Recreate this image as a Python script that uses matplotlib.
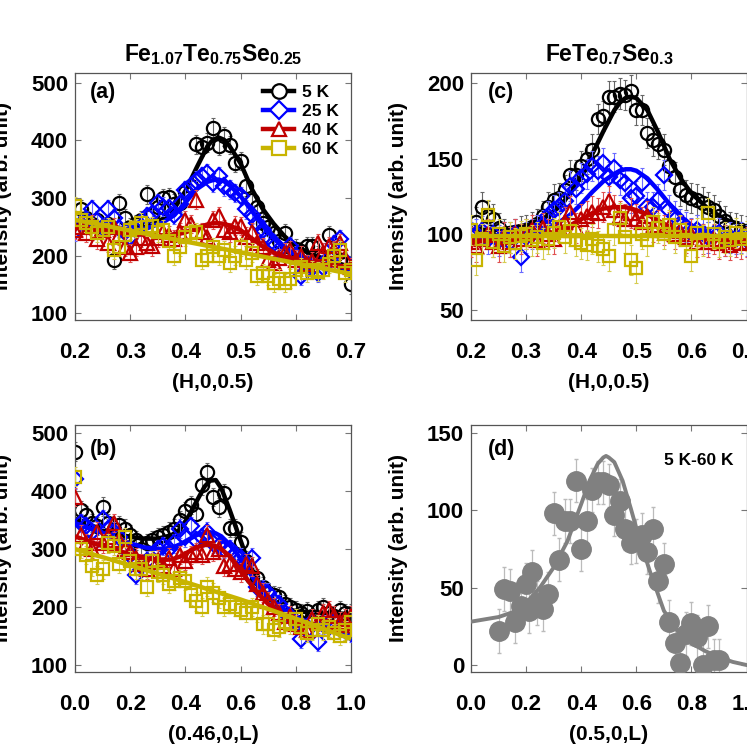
import numpy as np
import matplotlib.pyplot as plt
from matplotlib.lines import Line2D

plt.rcParams['font.family'] = ['Liberation Sans', 'DejaVu Sans']
plt.rcParams['font.weight'] = 'bold'
plt.rcParams['axes.labelweight'] = 'bold'
plt.rcParams['mathtext.fontset'] = 'custom'
plt.rcParams['mathtext.rm'] = 'Liberation Sans:bold'
plt.rcParams['mathtext.bf'] = 'Liberation Sans:bold'

# ---------------- panel (a): Fe1.07Te0.75Se0.25, (H,0,0.5) ----------------
h_a = np.linspace(0.20, 0.70, 51)
a_5K = [262, 280, 265, 255, 262, 250, 255, 193, 291, 265, 250, 255, 262, 306, 270, 285, 300, 302, 290, 291,
        311, 320, 393, 388, 396, 422, 390, 407, 392, 361, 364, 320, 297, 285, 257, 250, 239, 225, 239, 215,
        212, 208, 216, 216, 200, 198, 236, 200, 193, 185, 150]
a_25K = [242, 255, 262, 280, 260, 250, 280, 265, 248, 240, 233, 245, 250, 268, 272, 291, 285, 283, 270, 290,
         314, 320, 330, 338, 343, 326, 338, 320, 315, 309, 303, 280, 270, 256, 245, 233, 222, 210, 205, 216,
         200, 164, 185, 178, 170, 180, 195, 220, 228, 190, 175]
a_40K = [245, 250, 239, 255, 228, 245, 222, 250, 235, 215, 204, 215, 230, 222, 216, 230, 240, 235, 228, 240,
         262, 255, 297, 240, 233, 262, 268, 245, 240, 252, 251, 233, 240, 222, 215, 193, 187, 195, 205, 210,
         193, 200, 185, 190, 222, 205, 216, 210, 222, 195, 180]
a_60K = [286, 262, 257, 250, 239, 245, 250, 210, 215, 235, 245, 248, 257, 250, 251, 240, 245, 225, 199, 215,
         233, 239, 240, 193, 200, 215, 199, 210, 187, 200, 215, 193, 205, 164, 170, 165, 152, 160, 152, 160,
         175, 180, 170, 175, 172, 175, 185, 199, 210, 170, 175]
fit_a_x = [0.20, 0.25, 0.30, 0.33, 0.36, 0.38, 0.40, 0.42, 0.44, 0.45, 0.46, 0.47, 0.48, 0.50, 0.52, 0.54,
           0.56, 0.58, 0.60, 0.63, 0.66, 0.70]
fit_a_5K = [258, 251, 246, 250, 264, 282, 312, 352, 390, 401, 405, 401, 390, 360, 316, 281, 255, 233, 216,
            202, 191, 180]
fit_a_25K = [252, 248, 244, 247, 258, 270, 292, 315, 328, 331, 332, 329, 322, 303, 278, 252, 230, 213, 202,
             192, 185, 176]
fit_a_40K = [250, 244, 238, 236, 235, 236, 240, 248, 254, 256, 256, 255, 252, 244, 230, 216, 205, 198, 194,
             188, 184, 178]
fit_a60_x = [0.20, 0.70]
fit_a_60K = [262, 168]

# ---------------- panel (b): Fe1.07Te0.75Se0.25, (0.46,0,L) ----------------
l_b = np.linspace(0.0, 1.0, 51)
b_5K = [468, 367, 359, 345, 340, 373, 345, 335, 341, 335, 325, 315, 300, 310, 315, 320, 324, 330, 335, 350,
        365, 376, 361, 410, 433, 390, 372, 396, 336, 336, 313, 280, 252, 250, 235, 225, 220, 218, 205, 200,
        195, 190, 193, 185, 195, 200, 190, 185, 195, 189, 190]
b_25K = [420, 345, 340, 330, 320, 352, 335, 330, 320, 300, 290, 255, 270, 280, 275, 300, 305, 300, 310, 335,
         320, 340, 315, 320, 330, 310, 305, 300, 300, 290, 285, 275, 285, 235, 230, 225, 210, 205, 190, 185,
         175, 145, 160, 175, 140, 170, 165, 175, 165, 160, 155]
b_40K = [390, 325, 310, 300, 330, 310, 320, 345, 315, 300, 295, 285, 275, 265, 278, 282, 270, 285, 265, 290,
         280, 290, 295, 290, 325, 295, 300, 270, 275, 265, 260, 275, 270, 240, 225, 210, 200, 190, 175, 185,
         170, 165, 160, 180, 175, 190, 195, 185, 175, 180, 185]
b_60K = [425, 300, 290, 270, 255, 265, 310, 305, 275, 320, 280, 265, 265, 235, 280, 260, 255, 240, 245, 250,
         245, 220, 210, 200, 235, 225, 215, 200, 205, 200, 195, 190, 200, 190, 170, 170, 160, 165, 175, 170,
         180, 165, 155, 160, 170, 160, 165, 155, 150, 160, 175]
fit_b_x = [0.0, 0.05, 0.1, 0.15, 0.2, 0.25, 0.3, 0.35, 0.38, 0.41, 0.44, 0.47, 0.49, 0.51, 0.53, 0.56, 0.59,
           0.62, 0.66, 0.7, 0.75, 0.8, 0.85, 0.9, 0.95, 1.0]
fit_b_5K = [352, 342, 334, 326, 321, 318, 318, 324, 334, 355, 382, 408, 418, 419, 405, 368, 328, 288, 245,
            215, 199, 193, 191, 190, 189, 188]
fit_b_25K = [345, 336, 328, 318, 310, 303, 300, 302, 308, 316, 324, 328, 329, 327, 322, 308, 290, 268, 240,
             218, 198, 183, 173, 166, 161, 157]
fit_b_40K = [322, 313, 305, 298, 291, 285, 281, 282, 287, 295, 303, 307, 307, 305, 300, 288, 270, 250, 225,
             205, 187, 174, 167, 163, 160, 158]
fit_b60_x = [0.0, 0.2, 0.4, 0.6, 0.8, 1.0]
fit_b_60K = [300, 272, 243, 213, 180, 145]

# ---------------- panel (c): FeTe0.7Se0.3, (H,0,0.5) ----------------
h_c = np.linspace(0.20, 0.70, 51)
c_5K = [103, 108, 118, 112, 110, 104, 100, 98, 100, 102, 103, 105, 107, 112, 118, 123, 124, 129, 139, 139,
        145, 150, 156, 176, 178, 191, 191, 193, 192, 195, 182, 182, 167, 162, 160, 156, 145, 138, 129, 126,
        124, 123, 121, 118, 116, 112, 109, 105, 104, 103, 102]
c_25K = [98, 100, 102, 97, 100, 96, 98, 95, 100, 85, 98, 100, 103, 106, 112, 116, 118, 122, 132, 130,
         137, 140, 145, 142, 147, 138, 144, 136, 134, 124, 125, 134, 118, 118, 123, 139, 116, 112, 107, 105,
         101, 103, 101, 98, 100, 101, 96, 98, 97, 98, 96]
c_40K = [95, 92, 97, 100, 95, 92, 98, 95, 100, 97, 100, 103, 96, 104, 100, 97, 105, 108, 115, 104,
         110, 112, 115, 114, 118, 122, 116, 112, 110, 114, 110, 108, 112, 105, 106, 103, 105, 100, 102, 98,
         100, 95, 97, 95, 97, 94, 96, 93, 95, 94, 95]
c_60K = [103, 83, 97, 113, 95, 100, 92, 98, 94, 99, 100, 96, 98, 94, 97, 101, 105, 98, 102, 96,
         94, 93, 97, 92, 90, 86, 103, 111, 98, 83, 78, 100, 96, 108, 104, 100, 106, 98, 103, 96,
         86, 101, 96, 114, 100, 95, 98, 96, 101, 97, 99]
fit_c_x = [0.20, 0.25, 0.30, 0.33, 0.36, 0.38, 0.40, 0.42, 0.44, 0.46, 0.47, 0.48, 0.49, 0.50, 0.52, 0.54,
           0.56, 0.58, 0.60, 0.63, 0.66, 0.70]
fit_c_5K = [103, 103, 106, 110, 118, 127, 139, 153, 168, 182, 187, 190, 191, 190, 182, 167, 150, 137, 127,
            117, 110, 105]
fit_c_25K = [97, 98, 100, 103, 108, 113, 120, 128, 135, 140, 142, 143, 143, 142, 137, 129, 120, 112, 106,
             100, 98, 96]
fit_c_40K = [95, 96, 97, 99, 103, 106, 110, 114, 117, 118, 118, 118, 117, 116, 113, 109, 105, 101, 99,
             97, 96, 95]
fit_c60_x = [0.20, 0.70]
fit_c_60K = [99, 99]

# ---------------- panel (d): FeTe0.7Se0.3, (0.5,0,L), 5 K - 60 K ----------------
l_d = [0.10, 0.12, 0.14, 0.16, 0.18, 0.20, 0.21, 0.22, 0.24, 0.26, 0.28, 0.30, 0.32, 0.34, 0.36, 0.38,
       0.40, 0.42, 0.44, 0.46, 0.48, 0.50, 0.52, 0.54, 0.56, 0.58, 0.60, 0.62, 0.64, 0.66, 0.68, 0.70,
       0.72, 0.74, 0.76, 0.78, 0.80, 0.82, 0.84, 0.86, 0.88, 0.90]
d_diff = [22, 49, 48, 28, 38, 52, 35, 60, 40, 36, 46, 98, 68, 93, 93, 119,
          75, 93, 113, 118, 118, 116, 97, 106, 88, 79, 80, 84, 73, 88, 54, 65,
          28, 14, 1, 20, 27, 18, 0, 25, 3, 3]
fit_d_x = [0.0, 0.1, 0.15, 0.2, 0.25, 0.3, 0.35, 0.4, 0.43, 0.46, 0.48, 0.49, 0.5, 0.52, 0.55, 0.58, 0.61,
           0.65, 0.7, 0.75, 0.8, 0.85, 0.9, 0.95, 1.0]
fit_d = [28, 31, 34, 40, 50, 63, 80, 104, 119, 130, 134, 135, 134, 131, 119, 101, 82, 60, 35, 22, 14, 9, 5,
         2, 0]

temps = ['5 K', '25 K', '40 K', '60 K']
colors = ['#000000', '#0000ff', '#c00000', '#c8b400']
ecolors = ['#666666', '#6a6aff', '#e05050', '#d6cc50']
markers = ['o', 'D', '^', 's']
msizes = [9.5, 8, 9.5, 8.5]


def draw_panel(ax, x, ys, err, fxs, fys):
    for i in range(4):
        ax.errorbar(x, ys[i], yerr=err, fmt='none', ecolor=ecolors[i], elinewidth=0.8, capsize=1.2,
                    capthick=0.8, zorder=2 + i)
        ax.plot(x, ys[i], linestyle='none', marker=markers[i], ms=msizes[i], mfc='none',
                mec=colors[i], mew=1.6, zorder=2 + i)
        ax.plot(fxs[i], fys[i], color=colors[i], lw=3.2, zorder=2 + i, solid_capstyle='butt')


def style(ax, xlim, ylim, xticks, yticks):
    ax.set_xlim(xlim)
    ax.set_ylim(ylim)
    ax.set_xticks(xticks)
    ax.set_xticklabels(['%.1f' % t for t in xticks])
    ax.set_yticks(yticks)
    ax.tick_params(direction='in', top=True, right=True, length=4, width=0.8, color='#777777',
                   labelsize=16, pad=5)
    ax.tick_params(axis='x', pad=16)
    for s in ax.spines.values():
        s.set_color('#555555')
        s.set_linewidth(0.9)


fig = plt.figure(figsize=(7.47, 7.47), dpi=100)
ax_a = fig.add_axes([0.1004, 0.5716, 0.3695, 0.3307])
ax_c = fig.add_axes([0.6305, 0.5716, 0.369, 0.3307])
ax_b = fig.add_axes([0.1004, 0.1004, 0.3695, 0.3307])
ax_d = fig.add_axes([0.6305, 0.1004, 0.369, 0.3307])

draw_panel(ax_a, h_a, [a_5K, a_25K, a_40K, a_60K], 16,
           [fit_a_x, fit_a_x, fit_a_x, fit_a60_x], [fit_a_5K, fit_a_25K, fit_a_40K, fit_a_60K])
draw_panel(ax_b, l_b, [b_5K, b_25K, b_40K, b_60K], 16,
           [fit_b_x, fit_b_x, fit_b_x, fit_b60_x], [fit_b_5K, fit_b_25K, fit_b_40K, fit_b_60K])
draw_panel(ax_c, h_c, [c_5K, c_25K, c_40K, c_60K], 10,
           [fit_c_x, fit_c_x, fit_c_x, fit_c60_x], [fit_c_5K, fit_c_25K, fit_c_40K, fit_c_60K])

ax_d.errorbar(l_d, d_diff, yerr=14, fmt='none', ecolor='#bbbbbb', elinewidth=0.9, capsize=1.2, zorder=2)
ax_d.plot(l_d, d_diff, linestyle='none', marker='o', ms=14, color='#808080', zorder=3)
ax_d.plot(fit_d_x, fit_d, color='#808080', lw=2.8, zorder=4)

style(ax_a, (0.2, 0.7), (88, 517), [0.2, 0.3, 0.4, 0.5, 0.6, 0.7], [100, 200, 300, 400, 500])
style(ax_c, (0.2, 0.7), (43.4, 206.6), [0.2, 0.3, 0.4, 0.5, 0.6, 0.7], [50, 100, 150, 200])
style(ax_b, (0.0, 1.0), (88, 514), [0.0, 0.2, 0.4, 0.6, 0.8, 1.0], [100, 200, 300, 400, 500])
style(ax_d, (0.0, 1.0), (-4.5, 155), [0.0, 0.2, 0.4, 0.6, 0.8, 1.0], [0, 50, 100, 150])

for ax in [ax_a, ax_b, ax_c, ax_d]:
    ax.set_ylabel('Intensity (arb. unit)', fontsize=15, va='center')
    ax.yaxis.set_label_coords(-73 / 277, 0.5)

ax_a.set_xlabel('(H,0,0.5)', fontsize=15, va='center')
ax_c.set_xlabel('(H,0,0.5)', fontsize=15, va='center')
ax_b.set_xlabel('(0.46,0,L)', fontsize=15, va='center')
ax_d.set_xlabel('(0.5,0,L)', fontsize=15, va='center')
for ax in [ax_a, ax_b, ax_c, ax_d]:
    ax.xaxis.set_label_coords(0.5, -62 / 247)

ax_a.text(0.5, 1.073, r'$\mathrm{Fe_{1.07}Te_{0.75}Se_{0.25}}$', transform=ax_a.transAxes,
          ha='center', va='center', fontsize=16.5)
ax_c.text(0.5, 1.073, r'$\mathrm{FeTe_{0.7}Se_{0.3}}$', transform=ax_c.transAxes,
          ha='center', va='center', fontsize=16.5)

ax_a.text(0.054, 0.923, '(a)', transform=ax_a.transAxes, fontsize=15.5, va='center')
ax_b.text(0.054, 0.899, '(b)', transform=ax_b.transAxes, fontsize=15.5, va='center')
ax_c.text(0.061, 0.923, '(c)', transform=ax_c.transAxes, fontsize=15.5, va='center')
ax_d.text(0.061, 0.899, '(d)', transform=ax_d.transAxes, fontsize=15.5, va='center')
ax_d.text(0.827, 0.858, '5 K-60 K', transform=ax_d.transAxes, fontsize=12.5, ha='center', va='center')

handles = [Line2D([], [], color=colors[i], lw=3.2, marker=markers[i], ms=msizes[i] + 1, mfc='white',
                  mec=colors[i], mew=1.6) for i in range(4)]
ax_a.legend(handles, temps, loc='upper right', frameon=False, fontsize=12.5, handlelength=1.8,
            handletextpad=0.45, labelspacing=0.22, borderaxespad=0.3, bbox_to_anchor=(1.0, 1.0))

fig.savefig('out.png', dpi=100)
